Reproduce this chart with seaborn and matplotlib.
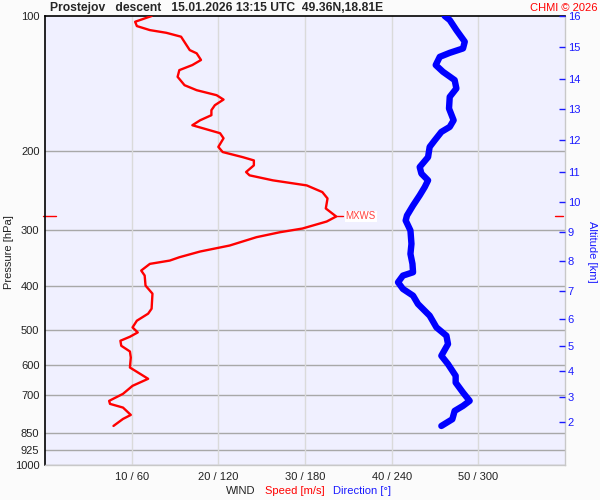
import matplotlib
matplotlib.use('Agg')
import matplotlib.pyplot as plt
import matplotlib.ticker as mticker
import numpy as np
import pandas as pd
import seaborn as sns

# wind speed profile (pressure hPa / speed m/s)
speed_pres = [100.0, 103.0, 105.3, 107.5, 109.0, 111.2, 115.1, 119.1, 121.1, 125.3,
              128.6, 132.0, 136.6, 142.6, 146.3, 150.1, 153.5, 158.0, 162.1, 166.3,
              170.7, 175.1, 177.8, 182.4, 187.2, 195.7, 200.9, 206.2, 209.7, 215.1,
              222.6, 226.4, 232.3, 238.4, 246.7, 254.9, 268.3, 279.6, 286.9, 297.4,
              303.1, 310.9, 324.5, 334.6, 344.6, 350.5, 356.5, 368.9, 378.5, 398.5,
              415.3, 448.6, 460.2, 477.1, 493.8, 506.7, 518.0, 528.8, 542.6, 558.7,
              576.2, 606.6, 642.7, 666.3, 694.2, 719.7, 730.9, 744.9, 773.5, 789.6,
              818.5]
speed = [12.3, 10.4, 10.6, 12.1, 14.0, 15.7, 16.2, 16.7, 17.5, 18.0,
         17.0, 15.5, 15.3, 16.1, 17.5, 19.8, 20.6, 19.6, 19.2, 19.2,
         17.9, 17.0, 18.2, 20.2, 20.6, 20.0, 20.5, 22.8, 24.1, 24.1,
         23.2, 23.6, 26.3, 30.2, 32.0, 32.6, 32.4, 33.6, 32.5, 29.7,
         27.1, 24.4, 21.3, 17.9, 15.5, 14.4, 12.1, 11.1, 11.5, 11.6,
         12.4, 12.3, 11.9, 10.6, 10.1, 10.7, 9.8, 8.7, 8.8, 9.8,
         9.9, 9.8, 11.9, 10.1, 9.0, 7.4, 7.5, 9.0, 9.9, 9.0,
         7.9]

# wind direction profile (pressure hPa / direction deg)
dir_pres = [100.0, 102.1, 107.5, 114.1, 118.1, 120.8, 123.3, 128.6, 133.1, 138.9,
            145.0, 151.4, 160.7, 170.7, 176.6, 181.2, 189.2, 195.7, 206.2, 217.0,
            224.4, 232.3, 240.4, 250.9, 264.2, 278.2, 285.4, 300.4, 321.7, 338.7,
            356.5, 372.2, 378.6, 391.8, 405.4, 419.6, 437.9, 465.0, 493.8, 515.3,
            537.9, 571.1, 596.1, 632.9, 655.2, 689.8, 719.7, 738.4, 757.7, 790.7,
            818.5]
direction = [276.7, 280.2, 284.8, 290.6, 289.4, 280.2, 273.3, 270.5, 275.5, 283.6,
             284.8, 280.2, 279.7, 282.9, 280.2, 274.4, 269.8, 266.3, 265.2, 259.4,
             260.6, 265.2, 262.9, 259.4, 254.8, 250.6, 249.7, 253.0, 253.7, 253.0,
             254.4, 254.8, 247.8, 244.4, 247.8, 254.8, 258.2, 266.3, 271.0, 277.9,
             279.0, 274.4, 279.0, 284.3, 284.3, 289.4, 294.0, 289.4, 283.6, 282.0,
             274.4]

# altitude scale on the right (km -> hPa)
alt_km = [2, 3, 4, 5, 6, 7, 8, 9, 10, 11, 12, 13, 14, 15, 16]
alt_pres = [802, 706, 619, 542, 472, 409, 352, 303, 260, 222, 189, 161, 138, 117, 100]

p_levels = [100, 200, 300, 400, 500, 600, 700, 850, 925, 1000]
speed_ticks = [10, 20, 30, 40, 50]
wind_labels = ['10 / 60', '20 / 120', '30 / 180', '40 / 240', '50 / 300']

sns.set_style('white')
plt.rcParams['font.family'] = ['Liberation Sans', 'DejaVu Sans']

fig = plt.figure(figsize=(6, 5), dpi=100, facecolor='#fbfbfb')
ax = fig.add_axes([45 / 600, 35 / 500, 520 / 600, 449 / 500])
ax.set_facecolor('#f0f0ff')
ax.set_yscale('log')
ax.set_ylim(1000, 100)
ax.set_xlim(0, 60)

# grid
for p in p_levels[1:]:
    ax.axhline(p, color='#a8a8a8', lw=1, zorder=1)
for s in speed_ticks:
    ax.axvline(s, color='#dadada', lw=1, zorder=1)

sns.lineplot(x=speed, y=speed_pres, sort=False, estimator=None, color='red',
             lw=1.7, ax=ax, zorder=3)

ax.set_yticks(p_levels, [str(p) for p in p_levels])
ax.yaxis.set_minor_locator(mticker.NullLocator())
ax.set_xticks(speed_ticks, wind_labels)
ax.tick_params(axis='both', length=0, labelsize=8, colors='#222222')
ax.tick_params(axis='x', pad=5)
ax.tick_params(axis='y', pad=4)
ax.set_xlabel('')
ax.set_ylabel('')
for side in ['top', 'left']:
    ax.spines[side].set_color('black')
    ax.spines[side].set_linewidth(1.2)
for side in ['right', 'bottom']:
    ax.spines[side].set_color('#c8c8c8')
    ax.spines[side].set_linewidth(1)

# max wind mark
imax = int(np.argmax(speed))
s_max, p_max = speed[imax], speed_pres[imax]
ax.plot([s_max, s_max + 0.75], [p_max, p_max], color='red', lw=1, zorder=3)
ax.text(s_max + 1.1, p_max, 'MXWS', color='#ff4040', fontsize=7, va='center',
        ha='left', bbox=dict(fc='white', ec='none', pad=0.6), zorder=4)
yt = ax.get_yaxis_transform()
ax.plot([-0.004, 0.021], [p_max, p_max], transform=yt, color='red', lw=1, clip_on=False)
ax.plot([0.98, 0.996], [p_max, p_max], transform=yt, color='red', lw=1, clip_on=False)

# direction on its own 0-360 scale
axd = ax.twiny()
axd.set_xlim(0, 360)
sns.lineplot(x=direction, y=dir_pres, sort=False, estimator=None, color='#0000ff',
             lw=4.6, ax=axd, zorder=3, solid_capstyle='round')
axd.set_xticks([])
axd.set_xlabel('')
axd.set_ylabel('')
for sp in axd.spines.values():
    sp.set_visible(False)

# altitude axis
axa = ax.twinx()
axa.set_yscale('log')
axa.set_ylim(1000, 100)
axa.set_yticks(alt_pres, [str(k) for k in alt_km])
axa.yaxis.set_minor_locator(mticker.NullLocator())
axa.tick_params(axis='y', direction='in', length=4, width=1, colors='#1a1aff',
                labelsize=8, pad=2)
axa.set_ylabel('')
for sp in axa.spines.values():
    sp.set_visible(False)

fig.text(50 / 600, 1 - 8 / 500, 'Prostejov   descent   15.01.2026 13:15 UTC  49.36N,18.81E',
         fontsize=8.7, fontweight='bold', va='center', ha='left')
fig.text(597 / 600, 1 - 8 / 500, 'CHMI \u00a9 2026', fontsize=8, color='red',
         va='center', ha='right')
fig.text(9 / 600, 1 - 252 / 500, 'Pressure [hPa]', fontsize=8, color='#222222',
         rotation=90, va='center', ha='center')
fig.text(592 / 600, 1 - 252 / 500, 'Altitude [km]', fontsize=8, color='#1a1aff',
         rotation=270, va='center', ha='center')
fig.text(255 / 600, 1 - 491 / 500, 'WIND', fontsize=8, color='#222222', va='center', ha='right')
fig.text(265 / 600, 1 - 491 / 500, 'Speed [m/s]', fontsize=8, color='red', va='center', ha='left')
fig.text(333 / 600, 1 - 491 / 500, 'Direction [\u00b0]', fontsize=8, color='#1a1aff',
         va='center', ha='left')

fig.savefig('out.png', dpi=100, facecolor=fig.get_facecolor())
